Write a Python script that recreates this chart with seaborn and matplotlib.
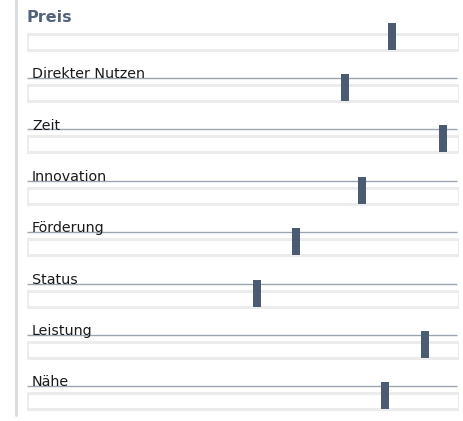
import numpy as np
import pandas as pd
import matplotlib.pyplot as plt
import matplotlib.lines as mlines
import seaborn as sns

# Kriterien und Werte (0-100)
criteria = ['Preis', 'Direkter Nutzen', 'Zeit', 'Innovation',
            'Förderung', 'Status', 'Leistung', 'Nähe']
scores = [84.5, 73.5, 96.2, 77.5, 62.2, 53.2, 92.1, 82.8]

df = pd.DataFrame({'Kriterium': criteria, 'Wert': scores, 'Max': 100})

sns.set_theme(style='white')
plt.rcParams['font.family'] = ['DejaVu Sans']

W, H, DPI = 464, 421, 100
fig = plt.figure(figsize=(W / DPI, H / DPI), dpi=DPI)
fig.patch.set_facecolor('white')

row_px = 51.4
top_px = 41.5
ax = fig.add_axes([27 / W, 0, 432 / W, 1])

# Hintergrund-Balken (Spur)
sns.barplot(data=df, x='Max', y='Kriterium', orient='h', ax=ax,
            color='white', edgecolor='#ececec', linewidth=2.2,
            width=16 / row_px, saturation=1)
ax.set_xlim(0, 100)
ax.set_ylim((H - top_px) / row_px, -top_px / row_px)
ax.axis('off')

rows = np.arange(len(criteria))
u = 1 / row_px

# Markierungen
ax.vlines(df['Wert'], rows - 19 * u, rows + 8 * u,
          colors='#4b5b72', linewidth=8 * 72 / DPI)

# Beschriftungen und Trennlinien
for i, name in enumerate(criteria):
    if i == 0:
        ax.text(0, i - 20 * u, name, fontsize=11.5, fontweight='bold',
                color='#52627a', ha='left', va='baseline')
    else:
        ax.plot([0, 99.5], [i - 15 * u, i - 15 * u], color='#9ba4b1',
                linewidth=1, solid_capstyle='butt', zorder=1)
        ax.text(5 / 4.32, i - 14.8 * u, name, fontsize=10.3, color='#1a1a1a',
                ha='left', va='baseline')

# Vertikale Linie links
fig.add_artist(mlines.Line2D([16 / W, 16 / W], [1, 1 - 415 / H],
                             color='#dddddd', linewidth=2.2))

fig.savefig('out.png', dpi=DPI)
